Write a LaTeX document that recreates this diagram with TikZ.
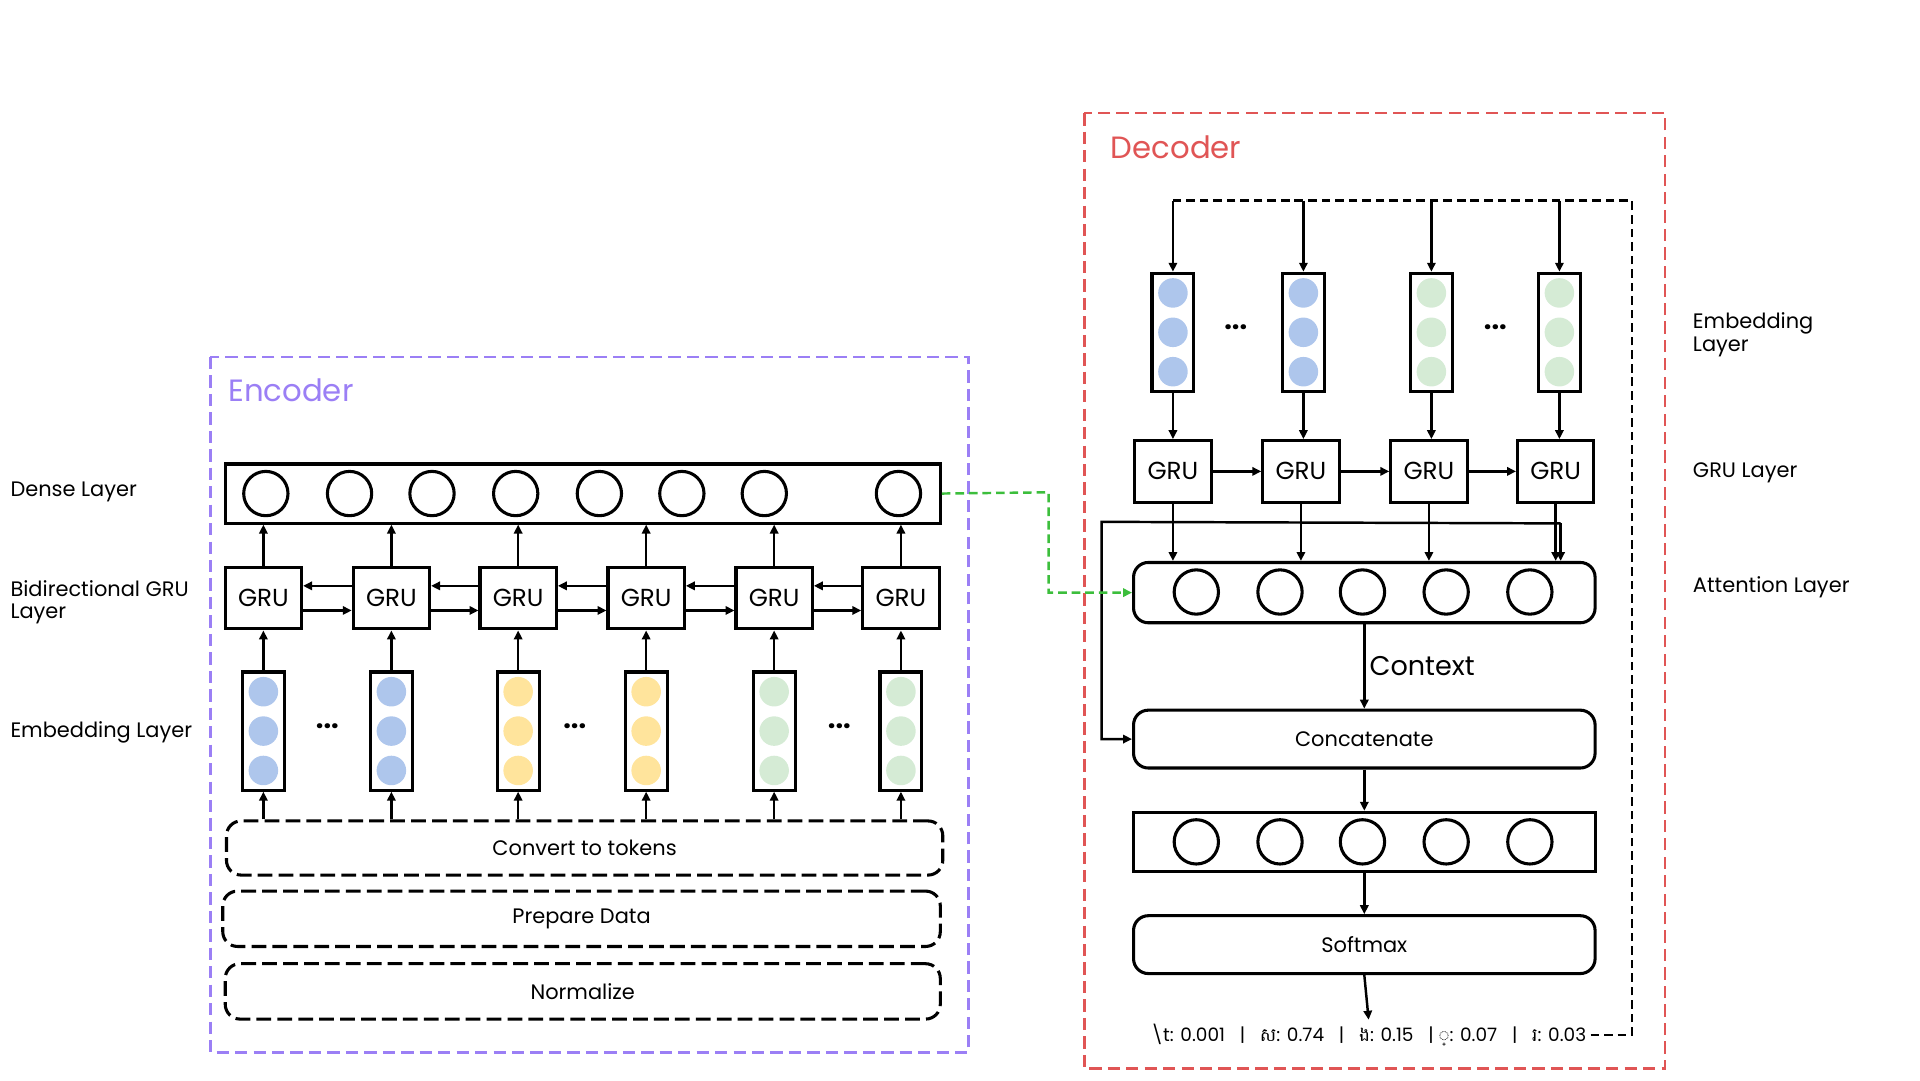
\documentclass[tikz,border=0pt]{standalone}
\usepackage{fontspec}
\setmainfont{Poppins}
\newfontfamily\khmerfont[Script=Khmer]{Battambang}
\usetikzlibrary{arrows.meta,positioning,calc}
\definecolor{encpurple}{RGB}{155,127,245}
\definecolor{decred}{RGB}{224,85,85}
\definecolor{embblue}{RGB}{174,198,236}
\definecolor{embyellow}{RGB}{255,228,156}
\definecolor{embgreen}{RGB}{213,235,213}
\definecolor{linkgreen}{RGB}{60,190,60}
\tikzset{>={Stealth[inset=0pt,angle=50:8pt]}}
\tikzset{
  grubox/.style={draw,line width=2.5pt,minimum width=62pt,minimum height=50pt,inner sep=0pt,font=\fontsize{20}{20}\selectfont},
  embbox/.style={draw,line width=2.5pt,minimum width=34pt,minimum height=96pt,inner sep=0pt},
  unit/.style={draw,line width=2.5pt,circle,minimum size=36pt,inner sep=0pt},
  dot/.style={circle,minimum size=24pt,inner sep=0pt},
  stagebox/.style={draw,line width=2.5pt,rounded corners=12pt,inner sep=0pt,font=\fontsize{17}{17}\selectfont},
  layerlabel/.style={anchor=west,align=left,font=\fontsize{17}{18}\selectfont},
  conn/.style={->,line width=2pt},
}
\begin{document}
\begin{tikzpicture}[x=1pt,y=-1pt]
\useasboundingbox (0,0) rectangle (1560,878);
%Encoder frame
\draw [encpurple,line width=2pt,dash pattern=on 10pt off 5pt] (171,290) rectangle (787,855);
\node [anchor=west,text=encpurple,font=\fontsize{25}{25}\selectfont] (enctitle) at (182,317) {Encoder};
%Dense layer
\node [draw,line width=2.5pt,minimum width=581pt,minimum height=48pt,inner sep=0pt] (dense) at (473.5,401) {};
\foreach \x [count=\i] in {216,284,351,419,487,554,621,730}
  \node [unit] (dn\i) at (\x,401) {};
%Bidirectional GRU
\foreach \x [count=\i] in {214,318,421,525,629,732}
  \node [grubox] (eg\i) at (\x,486) {GRU};
\foreach \i [evaluate=\i as \j using int(\i+1)] in {1,...,5}{
  \draw [conn] ($(eg\j.west)+(0,-10)$) -- ($(eg\i.east)+(0,-10)$);
  \draw [conn] ($(eg\i.east)+(0,10)$) -- ($(eg\j.west)+(0,10)$);
}
\foreach \i in {1,...,6}
  \draw [conn] (eg\i.north) -- (eg\i.north |- dense.south);
%Embedding
\foreach \x/\c [count=\i] in {214/embblue,318/embblue,421/embyellow,525/embyellow,629/embgreen,732/embgreen}{
  \node [embbox] (ee\i) at (\x,594) {};
  \foreach \y in {-32,0,32}
    \node [dot,fill=\c] at ($(ee\i)+(0,\y)$) {};
  \draw [conn] (ee\i.north) -- (eg\i.south);
}
\foreach \x in {266,467,682}
  \node [font=\fontsize{22}{22}\selectfont\bfseries] at (\x,590) {...};
%Preprocessing
\node [stagebox,dash pattern=on 12pt off 5pt,minimum width=582pt,minimum height=44pt] (tokens) at (475,689) {Convert to tokens};
\node [stagebox,dash pattern=on 12pt off 5pt,minimum width=583pt,minimum height=45pt] (prep) at (472.5,746.5) {Prepare Data};
\node [stagebox,dash pattern=on 12pt off 5pt,minimum width=581pt,minimum height=45pt] (norm) at (473.5,805.5) {Normalize};
\foreach \i in {1,...,6}
  \draw [conn] (ee\i.south |- tokens.north) -- (ee\i.south);
%Left labels
\node [layerlabel] (lbdense) at (5,400) {Dense Layer};
\node [layerlabel] (lbbigru) at (5,489) {Bidirectional GRU\\Layer};
\node [layerlabel] (lbemb) at (5,595) {Embedding Layer};
%Decoder frame
\draw [decred,line width=2pt,dash pattern=on 10pt off 5pt] (881,92) rectangle (1353,868);
\node [anchor=west,text=decred,font=\fontsize{25}{25}\selectfont] (dectitle) at (899,120) {Decoder};
%Decoder embedding
\foreach \x/\c [count=\i] in {953/embblue,1059/embblue,1163/embgreen,1267/embgreen}{
  \node [embbox] (de\i) at (\x,270) {};
  \foreach \y in {-32,0,32}
    \node [dot,fill=\c] at ($(de\i)+(0,\y)$) {};
}
\foreach \x in {1004,1215}
  \node [font=\fontsize{22}{22}\selectfont\bfseries] at (\x,266) {...};
%Decoder GRU
\foreach \x [count=\i] in {953,1057,1161,1264}{
  \node [grubox] (dg\i) at (\x,383) {GRU};
  \draw [conn] (de\i.south) -- (de\i.south |- dg\i.north);
}
\foreach \i [evaluate=\i as \j using int(\i+1)] in {1,...,3}
  \draw [conn] (dg\i.east) -- (dg\j.west);
%Attention
\node [draw,line width=2.5pt,rounded corners=12pt,minimum width=375pt,minimum height=49pt,inner sep=0pt] (attn) at (1108.5,481.5) {};
\foreach \x [count=\i] in {972,1040,1107,1175,1243}
  \node [unit] (at\i) at (\x,481) {};
\foreach \i in {1,...,4}
  \draw [conn] (dg\i.south) -- (dg\i.south |- attn.north);
\draw [conn] ($(dg4.south)+(4,16)$) -- ($(dg4.south |- attn.north)+(4,0)$);
%Concatenate and output
\node [stagebox,minimum width=375pt,minimum height=47pt] (concat) at (1108.5,600.5) {Concatenate};
\node [draw,line width=2.5pt,minimum width=375pt,minimum height=48pt,inner sep=0pt] (outl) at (1108.5,684) {};
\foreach \x [count=\i] in {972,1040,1107,1175,1243}
  \node [unit] (ou\i) at (\x,684) {};
\node [stagebox,minimum width=375pt,minimum height=47pt] (softmax) at (1108.5,767.5) {Softmax};
\node [font=\fontsize{15}{15}\selectfont] (probs) at (1112,841) {\textbackslash t: 0.001 \ \ | \ \ {\khmerfont ស}: 0.74 \ \ | \ \ {\khmerfont ង}: 0.15 \ \ | {\khmerfont ្}: 0.07 \ \ | \ \ {\khmerfont រ}: 0.03};
\draw [conn] (attn.south) -- node [right,font=\fontsize{22}{22}\selectfont] {Context} (concat.north);
\draw [conn] (concat.south) -- (outl.north);
\draw [conn] (outl.south) -- (softmax.north);
\draw [conn] (softmax.south) -- (probs.north);
%Skip to concatenate
\draw [conn] ($(dg4.south)+(4,16)$) -- (895,424) |- (concat.west);
%Feedback loop
\coordinate (fbtop) at (1326,163);
\draw [line width=2pt,dash pattern=on 7pt off 4pt] (probs.east) -| (fbtop) -- (953,163);
\foreach \i in {1,...,4}
  \draw [conn] (de\i.north |- fbtop) -- (de\i.north);
%Encoder to decoder
\draw [->,linkgreen,line width=2pt,dash pattern=on 7pt off 4pt] (dense.east) -- (852,400) |- (attn.west);
%Right labels
\node [layerlabel] (rlemb) at (1372,272) {Embedding\\Layer};
\node [layerlabel] (rlgru) at (1372,384) {GRU Layer};
\node [layerlabel] (rlattn) at (1372,477) {Attention Layer};
\end{tikzpicture}
\end{document}
